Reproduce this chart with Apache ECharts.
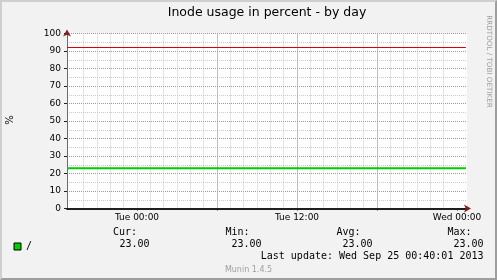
<!DOCTYPE html>
<html><head><meta charset="utf-8">
<script src="https://cdn.jsdelivr.net/npm/echarts@6/dist/echarts.min.js"></script>
<style>
html,body{margin:0;padding:0;background:#f2f2f2;}
#wrap{position:relative;width:497px;height:280px;}
#chart{position:absolute;left:0;top:0;width:497px;height:280px;}
#frame{position:absolute;left:0;top:0;width:497px;height:280px;box-sizing:border-box;border-top:2px solid #cfcfcf;border-left:2px solid #cfcfcf;border-right:2px solid #9e9e9e;border-bottom:2px solid #9e9e9e;pointer-events:none;}
</style></head><body>
<div id="wrap"><div id="chart"></div><div id="frame"></div></div>
<script>
// ---- data ----
const chartTitle = 'Inode usage in percent - by day';
const yAxisName = '%';
const hours = [-5.25, 0, 6, 12, 18, 24, 24.67];          // hours relative to Tue 00:00
const rootInodes = [23, 23, 23, 23, 23, 23, 23];
const warningLevel = [92, 92, 92, 92, 92, 92, 92];
const xMin = -5.25, xMax = 24.75;
const hourTicks = [-5,-4,-3,-2,-1,0,1,2,3,4,5,6,7,8,9,10,11,12,13,14,15,16,17,18,19,20,21,22,23,24];
const sixHourTicks = [0, 6, 12, 18, 24];
const labelTicks = [0, 12, 24];
const labelTexts = ['Tue 00:00', 'Tue 12:00', 'Wed 00:00'];
const yMin = 0, yMax = 100, yMinorStep = 5, yMajorStep = 10;
const legendName = '/';
const statLabels = ['Cur:', 'Min:', 'Avg:', 'Max:'];
const statValues = ['23.00', '23.00', '23.00', '23.00'];
const lastUpdate = 'Last update: Wed Sep 25 00:40:01 2013';
const footer = 'Munin 1.4.5';
const watermark = 'RRDTOOL / TOBI OETIKER';

// ---- chart ----
const SANS = '"DejaVu Sans"';
const MONO = '"DejaVu Sans Mono"';
const pts = (ys) => hours.map((h, i) => [h, ys[i]]);
const minorGray = { color: '#cacaca', width: 1, type: [1, 1] };
const majorRed = { color: '#e87878', width: 1, type: [1, 1] };

const baseX = { type: 'value', min: xMin, max: xMax, position: 'bottom', offset: 0, gridIndex: 0 };
const baseY = { type: 'value', min: yMin, max: yMax, position: 'left', offset: 0, gridIndex: 0 };

const statX = [113, 225.5, 336.5, 447.5];
const valRight = [149.5, 261.5, 372.5, 483.5];
const graphics = [
  { type: 'text', x: 267, y: 13, style: { text: chartTitle, font: '12.5px ' + SANS, fill: '#000', align: 'center', verticalAlign: 'middle', textAlign: 'center', textVerticalAlign: 'middle' } },
  { type: 'text', x: 10, y: 120, rotation: Math.PI / 2, style: { text: yAxisName, font: '10px ' + SANS, fill: '#000', align: 'center', verticalAlign: 'middle', textAlign: 'center', textVerticalAlign: 'middle' } },
  { type: 'text', x: 488.5, y: 61.5, rotation: -Math.PI / 2, style: { text: watermark, font: '7.2px ' + SANS, fill: '#a0a0a0', align: 'center', verticalAlign: 'middle', textAlign: 'center', textVerticalAlign: 'middle' } },
  { type: 'text', x: 248.5, y: 269.5, style: { text: footer, font: '8px ' + SANS, fill: '#a0a0a0', align: 'center', verticalAlign: 'middle', textAlign: 'center', textVerticalAlign: 'middle' } },
  { type: 'text', x: 483.5, y: 256, style: { text: lastUpdate, font: '10px ' + MONO, fill: '#000', align: 'right', verticalAlign: 'middle', textAlign: 'right', textVerticalAlign: 'middle' } }
];
statLabels.forEach((s, i) => {
  graphics.push({ type: 'text', x: statX[i], y: 232.7, style: { text: s, font: '10px ' + MONO, fill: '#000', align: 'left', verticalAlign: 'middle', textAlign: 'left', textVerticalAlign: 'middle' } });
  graphics.push({ type: 'text', x: valRight[i], y: 244.3, style: { text: statValues[i], font: '10px ' + MONO, fill: '#000', align: 'right', verticalAlign: 'middle', textAlign: 'right', textVerticalAlign: 'middle' } });
});

const chart = echarts.init(document.getElementById('chart'), null, { renderer: 'canvas' });
chart.setOption({
  animation: false,
  backgroundColor: '#f2f2f2',
  grid: { left: 67, top: 33.5, width: 400, height: 175, show: true, backgroundColor: '#ffffff', borderWidth: 0, containLabel: false },
  legend: {
    data: [legendName], left: 13.5, top: 241.5, padding: 0, icon: 'rect', itemWidth: 7, itemHeight: 7, itemGap: 5,
    itemStyle: { borderColor: '#000', borderWidth: 1 },
    textStyle: { fontFamily: MONO, fontSize: 10, color: '#000', padding: [0, 0, 0, 0] }
  },
  xAxis: [
    Object.assign({}, baseX, {
      axisLine: { show: false, onZero: false }, axisLabel: { show: false },
      axisTick: { show: false, customValues: hourTicks },
      splitLine: { show: true, lineStyle: minorGray, showMinLine: false, showMaxLine: false }
    }),
    Object.assign({}, baseX, {
      axisLine: { show: false, onZero: false }, axisLabel: { show: false },
      axisTick: { show: true, customValues: sixHourTicks, length: 2, inside: false, lineStyle: { color: '#1f1f1f' } },
      splitLine: { show: true, lineStyle: majorRed, showMinLine: false, showMaxLine: false }
    }),
    Object.assign({}, baseX, {
      axisLine: { show: true, onZero: false, lineStyle: { color: '#1f1f1f', width: 2 } },
      axisTick: { show: false, customValues: labelTicks },
      axisLabel: { show: true, customValues: labelTicks, margin: 5, fontFamily: SANS, fontSize: 9, color: '#000',
        formatter: (v) => { const i = labelTicks.indexOf(v); return i >= 0 ? labelTexts[i] : ''; } },
      splitLine: { show: false }
    }),
    Object.assign({}, baseX, {
      axisLine: { show: true, onZero: false, symbol: ['none', 'arrow'], symbolSize: [6, 7], symbolOffset: [0, 4], lineStyle: { color: '#801f1f', width: 0 } },
      axisTick: { show: false }, axisLabel: { show: false }, splitLine: { show: false }
    })
  ],
  yAxis: [
    Object.assign({}, baseY, {
      interval: yMinorStep,
      axisLine: { show: false, onZero: false }, axisLabel: { show: false }, axisTick: { show: false },
      splitLine: { show: true, lineStyle: minorGray, showMinLine: false }
    }),
    Object.assign({}, baseY, {
      interval: yMajorStep,
      axisLine: { show: true, onZero: false, lineStyle: { color: '#6a6a6a', width: 1 } },
      axisTick: { show: true, length: 3, lineStyle: { color: '#1f1f1f' } },
      axisLabel: { show: true, margin: 6, fontFamily: SANS, fontSize: 9, color: '#000' },
      splitLine: { show: true, lineStyle: majorRed, showMinLine: false }
    }),
    Object.assign({}, baseY, {
      axisLine: { show: true, onZero: false, symbol: ['none', 'arrow'], symbolSize: [6, 7], symbolOffset: [0, 4], lineStyle: { color: '#801f1f', width: 0 } },
      axisTick: { show: false }, axisLabel: { show: false }, splitLine: { show: false }
    })
  ],
  series: [
    { name: 'warning', type: 'line', data: pts(warningLevel), xAxisIndex: 0, yAxisIndex: 0, symbol: 'none',
      lineStyle: { color: '#dd0000', width: 1 }, z: 3 },
    { name: legendName, type: 'line', data: pts(rootInodes), xAxisIndex: 0, yAxisIndex: 0, symbol: 'none',
      itemStyle: { color: '#00cc00' }, lineStyle: { color: '#00cc00', width: 2 }, z: 3 }
  ],
  graphic: graphics
});
</script>
</body></html>
